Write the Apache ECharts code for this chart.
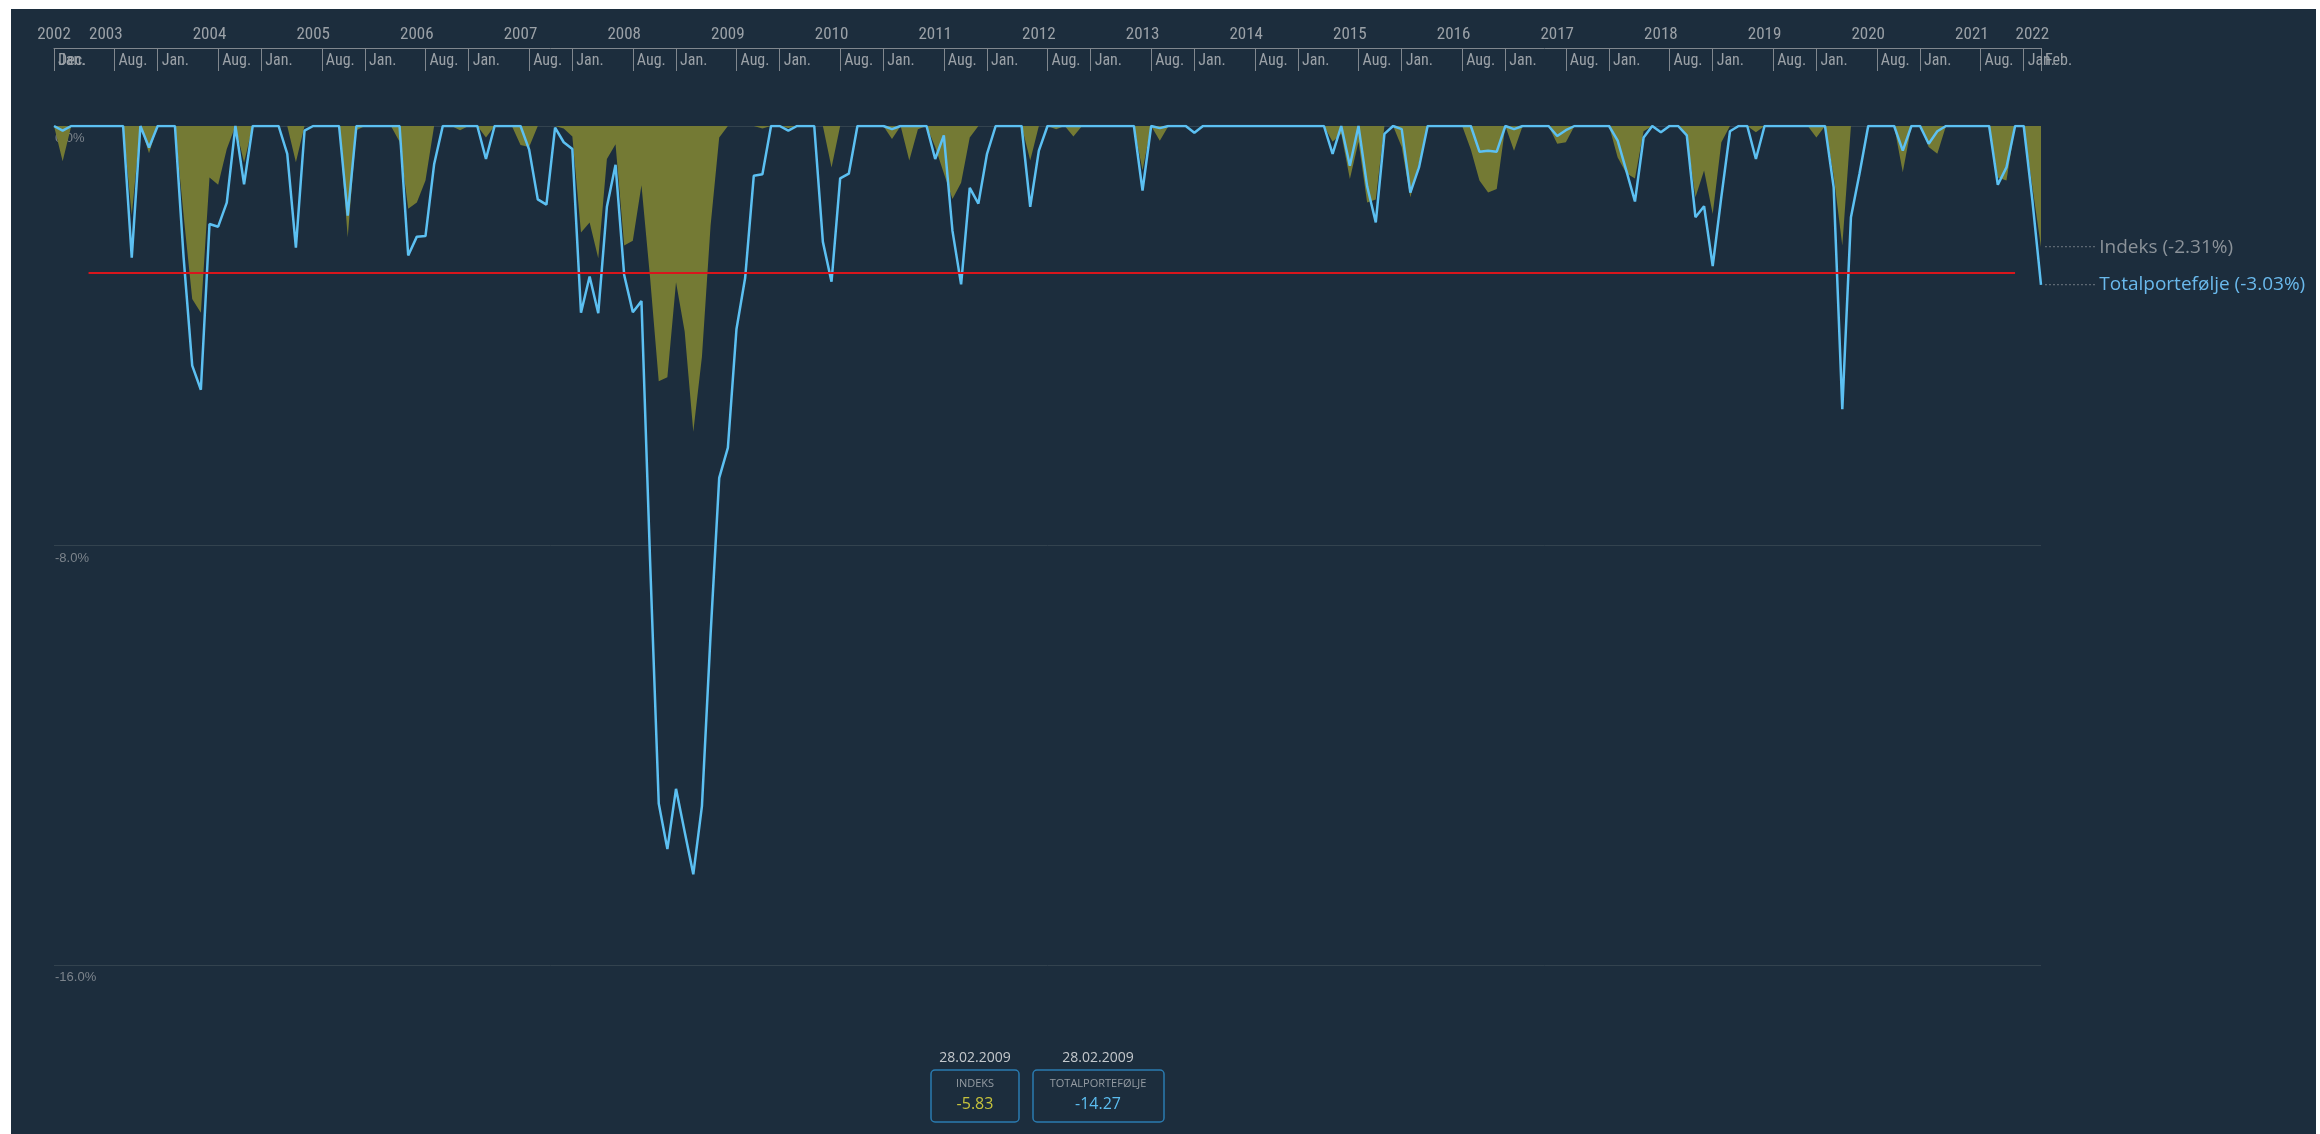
<!DOCTYPE html>
<html>
<head>
<meta charset="utf-8">
<script src="https://cdn.jsdelivr.net/npm/echarts@6/dist/echarts.min.js"></script>
<style>
html, body { margin: 0; padding: 0; background: #ffffff; }
#main { position: absolute; left: 11px; top: 9px; width: 2305px; height: 1125px; background: #1c2d3d; }
</style>
</head>
<body>
<div id="main"></div>
<script>
// drawdown pr. maaned, des. 2002 - feb. 2022 (i prosent)
var totalData = [
	0, -0.09, 0, 0, 0, 0, 0, 0, 0, -2.51, 0, -0.41,
	0, 0, 0, -2.5, -4.57, -5.03, -1.87, -1.92, -1.46, 0, -1.11, 0,
	0, 0, 0, -0.53, -2.32, -0.09, 0, 0, 0, 0, -1.71, 0,
	0, 0, 0, 0, 0, -2.47, -2.11, -2.10, -0.73, 0, 0, 0,
	0, 0, -0.63, 0, 0, 0, 0, -0.45, -1.40, -1.50, -0.03, -0.31,
	-0.44, -3.56, -2.87, -3.57, -1.54, -0.74, -2.84, -3.55, -3.34, -8.3, -12.92, -13.79,
	-12.64, -13.46, -14.27, -12.97, -9.7, -6.71, -6.14, -3.87, -2.9, -0.95, -0.92, 0,
	0, -0.09, 0, 0, 0, -2.21, -2.97, -1.0, -0.91, 0, 0, 0,
	0, -0.06, 0, 0, 0, 0, -0.63, -0.18, -2.0, -3.02, -1.18, -1.48,
	-0.53, 0, 0, 0, 0, -1.54, -0.47, 0, 0, 0, 0, 0,
	0, 0, 0, 0, 0, 0, -1.23, 0, -0.04, 0, 0, 0,
	-0.13, 0, 0, 0, 0, 0, 0, 0, 0, 0, 0, 0,
	0, 0, 0, 0, -0.53, 0, -0.76, 0, -1.15, -1.84, -0.15, 0,
	-0.06, -1.27, -0.79, 0, 0, 0, 0, 0, 0, -0.49, -0.47, -0.49,
	0, -0.06, 0, 0, 0, 0, -0.19, -0.08, 0, 0, 0, 0,
	0, -0.28, -0.85, -1.44, -0.22, 0, -0.12, 0, 0, -0.18, -1.74, -1.53,
	-2.67, -1.35, -0.1, 0, 0, -0.63, 0, 0, 0, 0, 0, 0,
	0, 0, -1.17, -5.4, -1.74, -0.9, 0, 0, 0, 0, -0.47, 0,
	0, -0.34, -0.1, 0, 0, 0, 0, 0, 0, -1.12, -0.79, 0,
	0, -1.42, -3.03
];
var indeksData = [
	0, -0.67, 0, 0, 0, 0, 0, 0, 0, -1.7, 0, -0.52,
	0, 0, 0, -1.7, -3.3, -3.56, -0.98, -1.12, -0.44, 0, -0.7, 0,
	0, 0, 0, 0, -0.69, 0, 0, 0, 0, 0, -2.12, -0.08,
	0, 0, 0, 0, -0.3, -1.58, -1.46, -1.04, 0, 0, 0, -0.08,
	0, 0, -0.22, 0, 0, 0, -0.36, -0.4, 0, 0, 0, -0.05,
	-0.2, -2.03, -1.84, -2.52, -0.63, -0.35, -2.28, -2.19, -1.13, -2.9, -4.87, -4.79,
	-2.98, -3.92, -5.83, -4.4, -1.9, -0.22, 0, 0, 0, 0, -0.05, 0,
	0, -0.04, 0, 0, 0, 0, -0.79, 0, 0, 0, 0, 0,
	0, -0.25, 0, -0.66, -0.06, 0, -0.4, -0.9, -1.39, -1.08, -0.22, 0,
	0, 0, 0, 0, 0, -0.66, 0, 0, -0.06, 0, -0.2, 0,
	0, 0, 0, 0, 0, 0, -0.85, 0, -0.28, 0, 0, 0,
	0, 0, 0, 0, 0, 0, 0, 0, 0, 0, 0, 0,
	0, 0, 0, 0, -0.3, -0.15, -1.01, -0.3, -1.46, -1.4, 0, 0,
	-0.4, -1.36, -0.7, 0, 0, 0, 0, 0, -0.45, -1.04, -1.27, -1.2,
	0, -0.47, 0, 0, 0, 0, -0.34, -0.31, 0, 0, 0, 0,
	0, -0.6, -0.9, -1.0, -0.1, 0, 0, 0, 0, -0.2, -1.36, -0.85,
	-1.68, -0.31, 0, 0, 0, -0.12, 0, 0, 0, 0, 0, 0,
	-0.22, 0, -0.95, -2.28, 0, 0, 0, 0, 0, 0, -0.88, 0,
	0, -0.4, -0.53, 0, 0, 0, 0, 0, 0, -0.98, -1.04, 0,
	0, -1.16, -2.31
];

// grenselinje (rod)
var limitValue = -2.8;
var limitFrom = 4;
var limitTo = 227;

// valgt punkt i boksene nederst
var selIndex = 74;
var selDate = '28.02.2009';

var yTicks = [0, -8, -16];

// maaneder: '2002-12' ... '2022-02'
var categories = [];
for (var k = 0; k < totalData.length; k++) {
	var m = 11 + k;
	var yy = 2002 + Math.floor(m / 12);
	var mo = m % 12 + 1;
	categories.push(yy + '-' + (mo < 10 ? '0' : '') + mo);
}
var lastIdx = categories.length - 1;

function monthOf(v) { return +v.slice(5, 7); }

// ticks: jan. + aug. + siste punkt
function showTick(index, value) {
	var mo = monthOf(value);
	return mo == 12 || mo == 7 || index == lastIdx;
}
function showMonth(index, value) {
	var mo = monthOf(value);
	return (mo == 12 || mo == 7) && index != lastIdx;
}
function monthText(value, index) {
	return monthOf(value) == 12 ? 'Jan.' : 'Aug.';
}
function showYear(index, value) {
	return index == 0 || index == lastIdx - 1 || monthOf(value) == 6;
}

var narrow = "'Liberation Sans Narrow', 'Roboto Condensed', 'DejaVu Sans Condensed', 'Liberation Sans', sans-serif";
var dots = '·············';

var dom = document.getElementById('main');
var myChart = echarts.init(dom);

var option = {
	backgroundColor : '#1c2d3d',
	animation : false,
	grid : {
		left : 43,
		right : 275,
		top : 117,
		bottom : 169
	},
	xAxis : [ {
		type : 'category',
		data : categories,
		boundaryGap : false,
		position : 'top',
		offset : 78,
		axisLine : { onZero : false, lineStyle : { color : '#80878e', width : 1 } },
		axisTick : {
			inside : true,
			length : 23,
			interval : showTick,
			lineStyle : { color : '#80878e' }
		},
		axisLabel : {
			inside : true,
			margin : 5,
			interval : showMonth,
			hideOverlap : false,
			formatter : monthText,
			align : 'left',
			padding : [0, 0, 0, 4],
			color : '#9ba1a7',
			fontSize : 16,
			fontFamily : narrow
		},
		splitLine : { show : false }
	}, {
		// "Dec." ved start og "Feb." ved slutt
		type : 'category',
		data : categories,
		boundaryGap : false,
		position : 'top',
		offset : 78,
		axisLine : { show : false, onZero : false },
		axisTick : { show : false },
		axisLabel : {
			inside : true,
			margin : 5,
			showMinLabel : true,
			showMaxLabel : true,
			interval : function(index) { return index == 0 || index == lastIdx; },
			formatter : function(value, index) { return index == 0 ? 'Dec.' : 'Feb.'; },
			align : 'left',
			padding : [0, 0, 0, 4],
			color : '#9ba1a7',
			fontSize : 16,
			fontFamily : narrow
		}
	}, {
		// aarstall
		type : 'category',
		data : categories,
		boundaryGap : false,
		position : 'top',
		offset : 78,
		axisLine : { show : false, onZero : false },
		axisTick : { show : false },
		axisLabel : {
			margin : 5,
			interval : showYear,
			showMinLabel : true,
			showMaxLabel : true,
			formatter : function(value) { return value.slice(0, 4); },
			color : '#9ba1a7',
			fontSize : 17,
			fontFamily : narrow
		}
	} ],
	yAxis : {
		type : 'value',
		min : yTicks[2],
		max : yTicks[0],
		interval : 8,
		axisLine : { show : false },
		axisTick : { show : false },
		axisLabel : {
			inside : true,
			margin : 1,
			verticalAlign : 'top',
			padding : [6, 0, 0, 0],
			color : '#7c848c',
			fontSize : 13,
			fontFamily : 'Liberation Sans',
			formatter : function(v) { return v.toFixed(1) + '%'; }
		},
		splitLine : { lineStyle : { color : '#33434f', width : 1 } }
	},
	series : [ {
		name : 'Indeks',
		type : 'line',
		data : indeksData,
		showSymbol : false,
		symbol : 'none',
		lineStyle : { width : 0 },
		areaStyle : { color : '#747a34', opacity : 1 },
		z : 2,
		endLabel : {
			show : true,
			distance : 3,
			formatter : function(p) {
				return '{d|' + dots + '} {t|Indeks (' + (+p.value).toFixed(2) + '%)}';
			},
			rich : {
				d : { color : '#8a9198', fontSize : 12 },
				t : { color : '#8b9299', fontSize : 19, fontFamily : 'Open Sans' }
			}
		}
	}, {
		name : 'Totalportefølje',
		type : 'line',
		data : totalData,
		showSymbol : false,
		symbol : 'none',
		lineStyle : { color : '#5cc0f2', width : 2.5 },
		z : 3,
		endLabel : {
			show : true,
			distance : 3,
			formatter : function(p) {
				return '{d|' + dots + '} {t|Totalportefølje (' + (+p.value).toFixed(2) + '%)}';
			},
			rich : {
				d : { color : '#8a9198', fontSize : 12 },
				t : { color : '#6ab9ec', fontSize : 19, fontFamily : 'Open Sans' }
			}
		},
		markLine : {
			silent : true,
			symbol : ['none', 'none'],
			label : { show : false },
			lineStyle : { color : '#d9161c', width : 2, type : 'solid' },
			data : [ [ { coord : [categories[limitFrom], limitValue] }, { coord : [categories[limitTo], limitValue] } ] ]
		}
	} ],
	graphic : [
		{ type : 'text', x : 964, y : 1049, style : { text : selDate, align : 'center', verticalAlign : 'middle', fill : '#c5c9cd', font : '14px "Open Sans"' } },
		{ type : 'rect', shape : { x : 920, y : 1061, width : 88, height : 52, r : 4 }, style : { fill : 'none', stroke : '#2a7bb0', lineWidth : 1.5 } },
		{ type : 'text', x : 964, y : 1075, style : { text : 'INDEKS', align : 'center', verticalAlign : 'middle', fill : '#959ca3', font : '11px "Open Sans"' } },
		{ type : 'text', x : 964, y : 1095, style : { text : indeksData[selIndex].toFixed(2), align : 'center', verticalAlign : 'middle', fill : '#c6c23c', font : '16px "Open Sans"' } },

		{ type : 'text', x : 1087, y : 1049, style : { text : selDate, align : 'center', verticalAlign : 'middle', fill : '#c5c9cd', font : '14px "Open Sans"' } },
		{ type : 'rect', shape : { x : 1022, y : 1061, width : 131, height : 52, r : 4 }, style : { fill : 'none', stroke : '#2a7bb0', lineWidth : 1.5 } },
		{ type : 'text', x : 1087, y : 1075, style : { text : 'TOTALPORTEFØLJE', align : 'center', verticalAlign : 'middle', fill : '#959ca3', font : '11px "Open Sans"' } },
		{ type : 'text', x : 1087, y : 1095, style : { text : totalData[selIndex].toFixed(2), align : 'center', verticalAlign : 'middle', fill : '#5cbdf0', font : '16px "Open Sans"' } }
	]
};

myChart.setOption(option, true);
</script>
</body>
</html>
